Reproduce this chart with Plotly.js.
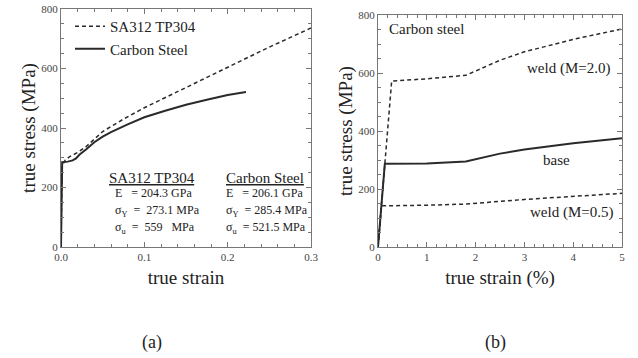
<!DOCTYPE html>
<html>
<head>
<meta charset="utf-8">
<script src="https://cdn.plot.ly/plotly-3.0.1.min.js"></script>
<style>html,body{margin:0;padding:0;background:#fff;}#chart{width:638px;height:358px;}</style>
</head>
<body>
<div id="chart"></div>
<script>
// (a) true stress–strain curves
var tp304Strain = [0, 0.0013, 0.005, 0.01, 0.02, 0.03, 0.05, 0.075, 0.1, 0.125, 0.15, 0.175, 0.2, 0.25, 0.3];
var tp304Stress = [0, 273, 292, 303, 318, 337, 388, 430, 468, 502, 535, 570, 605, 672, 736];
var carbonStrain = [0, 0.0014, 0.008, 0.014, 0.018, 0.022, 0.03, 0.04, 0.05, 0.06, 0.08, 0.1, 0.125, 0.15, 0.175, 0.2, 0.222];
var carbonStress = [0, 285, 287, 291, 298, 310, 328, 352, 371, 386, 412, 436, 458, 478, 495, 511, 521];
// (b) carbon steel base and weld (percent strain)
var baseStrain = [0, 0.14, 1, 1.8, 2.5, 3, 4, 5];
var baseStress = [0, 287, 288, 295, 322, 336, 358, 375];
var weld2Strain = [0, 0.28, 1, 1.8, 2.5, 3, 4, 5];
var weld2Stress = [0, 572, 580, 592, 644, 673, 716, 752];
var weld05Strain = [0, 0.07, 1, 1.8, 3, 4, 5];
var weld05Stress = [0, 142, 144, 148, 164, 175, 185];
// labels
var seriesNames = ["SA312 TP304", "Carbon Steel"];
var propRowsTP = ["E\u00a0\u00a0\u00a0= 204.3 GPa", "σ<sub>Y</sub>\u00a0 = \u00a0273.1 MPa", "σ<sub>u</sub>\u00a0 = \u00a0559\u00a0\u00a0 MPa"];
var propRowsCS = ["E\u00a0\u00a0\u00a0= 206.1 GPa", "σ<sub>Y</sub>\u00a0 = 285.4 MPa", "σ<sub>u</sub>\u00a0 = 521.5 MPa"];
var panelLabels = ["(a)", "(b)"];

var W = 638, H = 358;
function px(x){ return x / W; }
function py(y){ return 1 - y / H; }

var serif = "'Liberation Serif', 'Times New Roman', serif";
var txt = "#222";
var lineCol = "#2a2a2a";

var traces = [
  {x: tp304Strain, y: tp304Stress, mode: "lines", name: seriesNames[0], xaxis: "x", yaxis: "y",
   line: {color: lineCol, width: 1.5, dash: "4px,3px"}},
  {x: carbonStrain, y: carbonStress, mode: "lines", name: seriesNames[1], xaxis: "x", yaxis: "y",
   line: {color: lineCol, width: 2}},
  {x: weld2Strain, y: weld2Stress, mode: "lines", showlegend: false, xaxis: "x2", yaxis: "y2",
   line: {color: lineCol, width: 1.5, dash: "4px,3px"}},
  {x: weld05Strain, y: weld05Stress, mode: "lines", showlegend: false, xaxis: "x2", yaxis: "y2",
   line: {color: lineCol, width: 1.5, dash: "4px,3px"}},
  {x: baseStrain, y: baseStress, mode: "lines", showlegend: false, xaxis: "x2", yaxis: "y2",
   line: {color: lineCol, width: 2}}
];

function axisCommon(extra){
  var a = {
    showgrid: false, zeroline: false, showline: true, linecolor: "#777", linewidth: 1,
    mirror: "ticks", ticks: "inside", ticklen: 5, tickcolor: "#777", tickwidth: 1,
    tickfont: {family: serif, size: 11, color: "#444"},
    fixedrange: true
  };
  for (var k in extra) a[k] = extra[k];
  return a;
}

var annotations = [];
function ann(text, x, y, size, xanchor){
  annotations.push({text: text, xref: "paper", yref: "paper", x: px(x), y: py(y),
    xanchor: xanchor || "left", yanchor: "middle", showarrow: false,
    font: {family: serif, size: size, color: txt}});
}
ann("<u>" + seriesNames[0] + "</u>", 107, 178, 15);
ann("<u>" + seriesNames[1] + "</u>", 224, 178, 15);
var rowY = [193, 211, 228];
for (var i = 0; i < 3; i++){
  ann(propRowsTP[i], 113, rowY[i], 12);
  ann(propRowsCS[i], 224, rowY[i], 12);
}
ann("Carbon steel", 387, 29, 15);
ann("weld (M=2.0)", 525, 69, 15);
ann("base", 556, 160, 15, "center");
ann("weld (M=0.5)", 528, 213, 15);
ann(panelLabels[0], 152, 342, 18, "center");
ann(panelLabels[1], 495, 342, 18, "center");

var titleFont = {family: serif, size: 19, color: txt};
var layout = {
  width: W, height: H,
  margin: {l: 0, r: 0, t: 0, b: 0},
  paper_bgcolor: "#fff", plot_bgcolor: "#fff",
  showlegend: true,
  legend: {x: px(70), y: py(10), xanchor: "left", yanchor: "top",
    bgcolor: "rgba(0,0,0,0)", borderwidth: 0,
    font: {family: serif, size: 15, color: txt}, tracegroupgap: 0},
  xaxis: axisCommon({domain: [px(61), px(311)], range: [0, 0.3], dtick: 0.1, tickformat: ".1f",
    minor: {ticks: "inside", dtick: 0.02, ticklen: 3, tickcolor: "#777"},
    anchor: "y", title: {text: "true strain", standoff: 8, font: titleFont}}),
  yaxis: axisCommon({domain: [py(247), py(9)], range: [0, 800], dtick: 200,
    minor: {ticks: "inside", dtick: 50, ticklen: 3, tickcolor: "#777"},
    anchor: "x", title: {text: "true stress (MPa)", standoff: 0, font: titleFont}}),
  xaxis2: axisCommon({domain: [px(378), px(622)], range: [0, 5], dtick: 1,
    minor: {ticks: "inside", dtick: 0.2, ticklen: 3, tickcolor: "#777"},
    anchor: "y2", title: {text: "true strain (%)", standoff: 8, font: titleFont}}),
  yaxis2: axisCommon({domain: [py(247), py(15)], range: [0, 800], dtick: 200,
    minor: {ticks: "inside", dtick: 50, ticklen: 3, tickcolor: "#777"},
    anchor: "x2", title: {text: "true stress (MPa)", standoff: 0, font: titleFont}}),
  annotations: annotations
};

Plotly.newPlot("chart", traces, layout, {staticPlot: true, displayModeBar: false});
</script>
</body>
</html>
